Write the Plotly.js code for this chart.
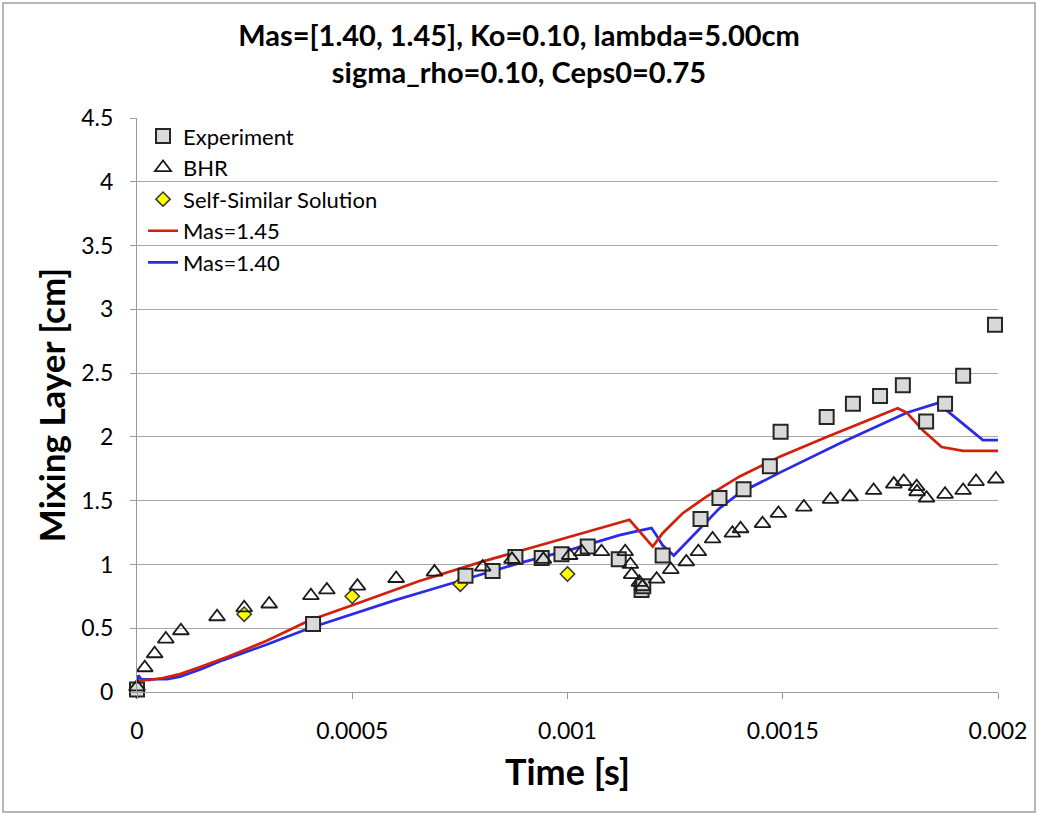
<!DOCTYPE html>
<html>
<head>
<meta charset="utf-8">
<script src="https://cdn.plot.ly/plotly-3.0.1.min.js"></script>
<style>
html,body{margin:0;padding:0;background:#fff;}
#chart{width:1038px;height:814px;}
</style>
</head>
<body>
<div id="chart"></div>
<script>
// ---- data ----
const expTime = [0, 0.000409, 0.000763, 0.000826, 0.000879, 0.000940, 0.000986, 0.001047, 0.001119, 0.001172, 0.001176, 0.001221, 0.001309, 0.001353, 0.001409, 0.001470, 0.001495, 0.001602, 0.001663, 0.001726, 0.001779, 0.001833, 0.001877, 0.001919, 0.001993];
const expLayer = [0.02, 0.533, 0.911, 0.948, 1.058, 1.05, 1.08, 1.14, 1.04, 0.80, 0.83, 1.07, 1.356, 1.52, 1.59, 1.77, 2.04, 2.155, 2.26, 2.32, 2.405, 2.12, 2.26, 2.48, 2.88];

const bhrTime = [0, 0.000018, 0.000041, 0.000067, 0.000102, 0.000186, 0.000249, 0.000307, 0.000404, 0.000441, 0.000512, 0.000602, 0.000691, 0.000803, 0.000871, 0.000944, 0.001005, 0.001033, 0.001079, 0.001134, 0.001146, 0.001149, 0.001167, 0.001174, 0.001207, 0.00124, 0.001276, 0.001304, 0.001337, 0.001383, 0.001402, 0.001453, 0.00149, 0.001549, 0.001611, 0.001656, 0.001711, 0.001758, 0.001781, 0.001811, 0.001812, 0.001834, 0.001877, 0.001919, 0.001949, 0.001995];
const bhrLayer = [0.04, 0.19, 0.30, 0.415, 0.48, 0.59, 0.66, 0.69, 0.755, 0.80, 0.83, 0.89, 0.94, 0.98, 1.04, 1.04, 1.07, 1.10, 1.10, 1.10, 1.0, 0.92, 0.86, 0.825, 0.885, 0.96, 1.02, 1.10, 1.20, 1.245, 1.28, 1.32, 1.40, 1.45, 1.51, 1.53, 1.58, 1.63, 1.65, 1.61, 1.57, 1.52, 1.55, 1.58, 1.65, 1.67];

const ssTime = [0, 0.000249, 0.0005, 0.000751, 0.001];
const ssLayer = [0.01, 0.61, 0.75, 0.845, 0.925];

const mas145Time = [0, 0.00003, 0.00006, 0.0001, 0.00015, 0.000214, 0.0003, 0.0004, 0.0005, 0.0006, 0.000656, 0.0008, 0.0009, 0.001, 0.0011, 0.001144, 0.001198, 0.001221, 0.001267, 0.001322, 0.0014, 0.001493, 0.001602, 0.00171, 0.001767, 0.001788, 0.001826, 0.001869, 0.001919, 0.002];
const mas145Layer = [0.09, 0.095, 0.11, 0.14, 0.20, 0.28, 0.40, 0.56, 0.68, 0.80, 0.87, 1.02, 1.115, 1.21, 1.31, 1.35, 1.14, 1.245, 1.40, 1.53, 1.69, 1.845, 2.0, 2.15, 2.225, 2.19, 2.05, 1.92, 1.89, 1.89];

const mas140Time = [0, 0.000003, 0.00001, 0.00007, 0.0001, 0.00015, 0.0002, 0.0003, 0.0004, 0.0005, 0.0006, 0.000679, 0.000888, 0.001012, 0.001121, 0.001167, 0.001195, 0.001206, 0.001221, 0.001247, 0.001314, 0.001353, 0.0014, 0.001493, 0.001633, 0.001788, 0.00186, 0.001965, 0.002];
const mas140Layer = [0.07, 0.13, 0.10, 0.10, 0.12, 0.18, 0.25, 0.37, 0.50, 0.61, 0.72, 0.80, 1.01, 1.12, 1.23, 1.265, 1.285, 1.23, 1.15, 1.07, 1.30, 1.44, 1.56, 1.72, 1.95, 2.19, 2.265, 1.975, 1.975];

const xTickVals = [0, 0.0005, 0.001, 0.0015, 0.002];
const xTickText = ["0", "0.0005", "0.001", "0.0015", "0.002"];
const yTickVals = [0, 0.5, 1, 1.5, 2, 2.5, 3, 3.5, 4, 4.5];
const yTickText = ["0", "0.5", "1", "1.5", "2", "2.5", "3", "3.5", "4", "4.5"];

// ---- traces ----
const FONT = "Lato, 'Open Sans', sans-serif";
const traces = [
  {x: mas140Time, y: mas140Layer, name: "Mas=1.40", mode: "lines", legendrank: 5,
   line: {color: "#2b2be6", width: 2.7}},
  {x: mas145Time, y: mas145Layer, name: "Mas=1.45", mode: "lines", legendrank: 4,
   line: {color: "#d2200b", width: 2.7}},
  {x: ssTime, y: ssLayer, name: "Self-Similar Solution", mode: "markers", legendrank: 3, cliponaxis: false,
   marker: {symbol: "diamond", size: 11, color: "#ffff00", line: {color: "#333333", width: 1.5}}},
  {x: expTime, y: expLayer, name: "Experiment", mode: "markers", legendrank: 1, cliponaxis: false,
   marker: {symbol: "square", size: 14, color: "#d9d9d9", line: {color: "#262626", width: 2}}},
  {x: bhrTime, y: bhrLayer, name: "BHR", mode: "markers", legendrank: 2, cliponaxis: false,
   marker: {symbol: "triangle-up", size: 14, color: "rgba(0,0,0,0)", line: {color: "#1a1a1a", width: 1.8}}}
];

const layout = {
  width: 1038, height: 814,
  margin: {l: 137, r: 40, t: 118, b: 122},
  paper_bgcolor: "#ffffff", plot_bgcolor: "#ffffff",
  font: {family: FONT, color: "#000000"},
  title: {
    text: "Mas=[1.40, 1.45], Ko=0.10, lambda=5.00cm<br>sigma_rho=0.10, Ceps0=0.75",
    font: {family: FONT, size: 29, weight: "bold", color: "#000000"},
    x: 0.5, xref: "container", xanchor: "center",
    y: 0.944, yref: "container", yanchor: "top"
  },
  xaxis: {
    range: [0, 0.002], tickvals: xTickVals, ticktext: xTickText,
    showgrid: false, zeroline: false, showline: true, linecolor: "#9a9a9a", linewidth: 1,
    ticks: "outside", ticklen: 6, tickcolor: "#9a9a9a", ticklabelstandoff: 12,
    tickfont: {family: FONT, size: 23, color: "#000000"},
    title: {text: "Time [s]", font: {family: FONT, size: 36, weight: "bold", color: "#000000"}, standoff: 17}
  },
  yaxis: {
    range: [0, 4.5], tickvals: yTickVals, ticktext: yTickText,
    showgrid: true, gridcolor: "#a8a8a8", gridwidth: 1, zeroline: false,
    showline: true, linecolor: "#9a9a9a", linewidth: 1,
    ticks: "outside", ticklen: 6, tickcolor: "#9a9a9a", ticklabelstandoff: 12,
    tickfont: {family: FONT, size: 23, color: "#000000"},
    title: {text: "Mixing Layer [cm]", font: {family: FONT, size: 35, weight: "bold", color: "#000000"}, standoff: 5}
  },
  legend: {
    x: 0.007, y: 1.005, xanchor: "left", yanchor: "top",
    bgcolor: "rgba(255,255,255,0)", borderwidth: 0,
    font: {family: FONT, size: 22, color: "#000000"}
  },
  showlegend: true,
  shapes: [{
    type: "rect", xref: "paper", yref: "paper",
    x0: -0.1556, x1: 1.0430, y0: -0.209, y1: 1.2003,
    line: {color: "#a0a0a0", width: 1.5}, fillcolor: "rgba(0,0,0,0)", layer: "below"
  }]
};

Plotly.newPlot("chart", traces, layout, {displayModeBar: false, staticPlot: true});
</script>
</body>
</html>
